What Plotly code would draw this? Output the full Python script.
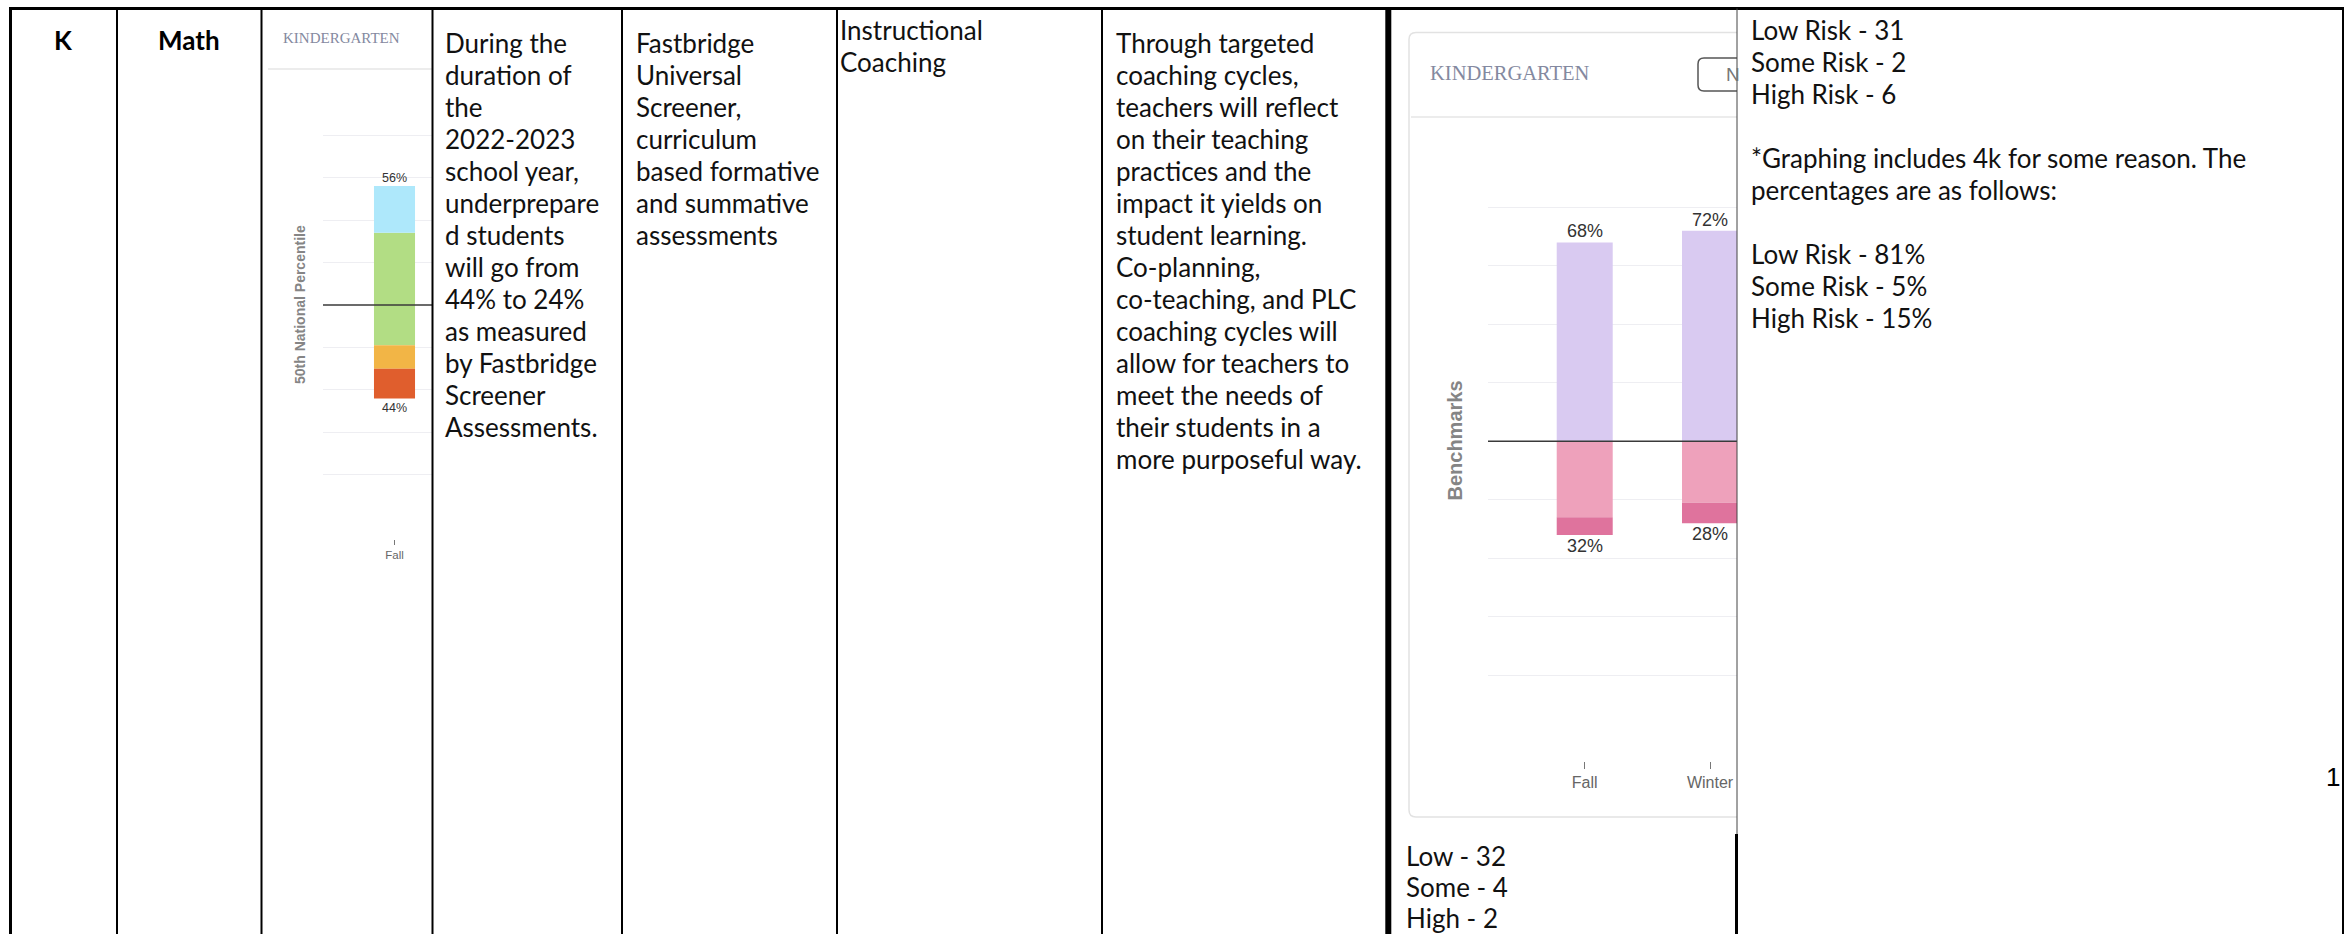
import plotly.graph_objects as go

W, H = 2344, 934

# ---------------- data ----------------
grade = "K"
subject = "Math"

# chart 1 : 50th national percentile view (percent of students)
k1_seasons = ["Fall"]
k1_blue_above = [22]
k1_green_above = [34]
k1_green_below = [19]
k1_orange_below = [11]
k1_red_below = [14]

# chart 2 : benchmarks view (percent of students)
k2_seasons = ["Fall", "Winter"]
k2_low_risk = [68, 72]
k2_some_risk = [26, 21]
k2_high_risk = [6, 7]

chart_title = "KINDERGARTEN"
k1_axis_title = "50th National Percentile"
k2_axis_title = "Benchmarks"

goal_lines = ["During the", "duration of", "the", "2022-2023", "school year,", "underprepare",
              "d students", "will go from", "44% to 24%", "as measured", "by Fastbridge",
              "Screener", "Assessments."]
measure_lines = ["Fastbridge", "Universal", "Screener,", "curriculum", "based formative",
                 "and summative", "assessments"]
strategy_lines = ["Instructional", "Coaching"]
action_lines = ["Through targeted", "coaching cycles,", "teachers will reflect", "on their teaching",
                "practices and the", "impact it yields on", "student learning.", "Co-planning,",
                "co-teaching, and PLC", "coaching cycles will", "allow for teachers to",
                "meet the needs of", "their students in a", "more purposeful way."]
count_lines = ["Low - 32", "Some - 4", "High - 2"]
note_lines = ["Low Risk - 31", "Some Risk - 2", "High Risk - 6", "",
              "*Graphing includes 4k for some reason. The", "percentages are as follows:", "",
              "Low Risk - 81%", "Some Risk - 5%", "High Risk - 15%"]
page_number = "1"

# ---------------- helpers ----------------
def px(x):
    return x / W


def py(y):
    return 1 - y / H


ann = []
shapes = []

TEXT_FONT = "Lato, 'Open Sans', sans-serif"
CHART_FONT = "'Liberation Sans', Arial, sans-serif"
NARROW_FONT = "'Liberation Sans Narrow', 'Arial Narrow', 'Liberation Sans', sans-serif"
SERIF_FONT = "'Liberation Serif', 'Times New Roman', serif"


def text_lines(lines, x, y0, dy, size=26, color="#111111", family=TEXT_FONT):
    for i, t in enumerate(lines):
        if not t:
            continue
        ann.append(dict(text=t, x=px(x), y=py(y0 + i * dy), xref="paper", yref="paper",
                        xanchor="left", yanchor="middle", showarrow=False,
                        font=dict(family=family, size=size, color=color)))


def hline(x0, x1, y, color="#000", width=2):
    shapes.append(dict(type="line", xref="paper", yref="paper", x0=px(x0), x1=px(x1),
                       y0=py(y), y1=py(y), line=dict(color=color, width=width)))


def vline(x, y0, y1, color="#000", width=2):
    shapes.append(dict(type="line", xref="paper", yref="paper", x0=px(x), x1=px(x),
                       y0=py(y0), y1=py(y1), line=dict(color=color, width=width)))


def ppath(points):
    s = ""
    for cmd, *vals in points:
        coords = []
        for i in range(0, len(vals), 2):
            coords.append(f"{px(vals[i]):.6f},{py(vals[i+1]):.6f}")
        s += cmd + " " + " ".join(coords) + " "
    return s.strip()


fig = go.Figure()

# ---------------- chart 1 ----------------
c1_colors = dict(blue="#aee8fb", green="#b2dd84", orange="#f2b546", red="#e05e2d")
bw1 = 0.287


def bar1(vals, color):
    fig.add_trace(go.Bar(x=k1_seasons, y=vals, width=bw1, marker=dict(color=color, line=dict(width=0)),
                         xaxis="x", yaxis="y", hoverinfo="skip"))


bar1(k1_green_above, c1_colors["green"])
bar1(k1_blue_above, c1_colors["blue"])
bar1([-v for v in k1_green_below], c1_colors["green"])
bar1([-v for v in k1_orange_below], c1_colors["orange"])
bar1([-v for v in k1_red_below], c1_colors["red"])

k1_top = [a + b for a, b in zip(k1_blue_above, k1_green_above)]
k1_bot = [a + b + c for a, b, c in zip(k1_green_below, k1_orange_below, k1_red_below)]
for s, t, b in zip(k1_seasons, k1_top, k1_bot):
    ann.append(dict(x=s, y=t, xref="x", yref="y", text=f"{t}%", showarrow=False, xanchor="center",
                    yanchor="middle", yshift=8.5, font=dict(family=CHART_FONT, size=12.5, color="#333")))
    ann.append(dict(x=s, y=-b, xref="x", yref="y", text=f"{b}%", showarrow=False, xanchor="center",
                    yanchor="middle", yshift=-9.5, font=dict(family=CHART_FONT, size=12.5, color="#333")))

# ---------------- chart 2 ----------------
c2_colors = dict(low="#d9caf1", some="#eea1bb", high="#df739d")
bw2 = 0.447


def bar2(vals, color):
    fig.add_trace(go.Bar(x=k2_seasons, y=vals, width=bw2, marker=dict(color=color, line=dict(width=0)),
                         xaxis="x2", yaxis="y2", hoverinfo="skip"))


bar2(k2_low_risk, c2_colors["low"])
bar2([-v for v in k2_some_risk], c2_colors["some"])
bar2([-v for v in k2_high_risk], c2_colors["high"])

k2_bot = [a + b for a, b in zip(k2_some_risk, k2_high_risk)]
for s, t, b in zip(k2_seasons, k2_low_risk, k2_bot):
    ann.append(dict(x=s, y=t, xref="x2", yref="y2", text=f"{t}%", showarrow=False, xanchor="center",
                    yanchor="middle", yshift=11, font=dict(family=CHART_FONT, size=18, color="#333")))
    ann.append(dict(x=s, y=-b, xref="x2", yref="y2", text=f"{b}%", showarrow=False, xanchor="center",
                    yanchor="middle", yshift=-11, font=dict(family=CHART_FONT, size=18, color="#333")))

# ---------------- axes ----------------
grid_vals = [-80, -60, -40, -20, 20, 40, 60, 80]

# chart geometry (pixels)
c1_left, c1_right, c1_top, c1_bot, c1_zero, c1_scale = 323, 432, 114, 539, 305, 2.124
c2_left, c2_right, c2_top, c2_bot, c2_zero, c2_scale = 1488, 1737, 149, 761, 441.3, 2.925

fig.update_layout(
    width=W, height=H, margin=dict(l=0, r=0, t=0, b=0, pad=0),
    paper_bgcolor="white", plot_bgcolor="rgba(0,0,0,0)",
    barmode="relative", showlegend=False,
    xaxis=dict(domain=[px(c1_left), px(c1_right)], range=[-0.5, 0.2622], type="category",
               ticks="outside", ticklen=5, tickcolor="#777", tickwidth=1,
               tickfont=dict(family=CHART_FONT, size=11.5, color="#666"),
               showgrid=False, zeroline=False, showline=False, anchor="y"),
    yaxis=dict(domain=[py(c1_bot), py(c1_top)],
               range=[-(c1_bot - c1_zero) / c1_scale, (c1_zero - c1_top) / c1_scale],
               tickmode="array", tickvals=grid_vals, showticklabels=False, ticks="",
               showgrid=True, gridcolor="#eeeef2", gridwidth=1, zeroline=False, showline=False, anchor="x"),
    xaxis2=dict(domain=[px(c2_left), px(c2_right)], range=[-0.772, 1.2155], type="category",
                ticks="outside", ticklen=7, tickcolor="#777", tickwidth=1,
                tickfont=dict(family=CHART_FONT, size=16, color="#666"),
                showgrid=False, zeroline=False, showline=False, anchor="y2"),
    yaxis2=dict(domain=[py(c2_bot), py(c2_top)],
                range=[-(c2_bot - c2_zero) / c2_scale, (c2_zero - c2_top) / c2_scale],
                tickmode="array", tickvals=grid_vals, showticklabels=False, ticks="",
                showgrid=True, gridcolor="#eeeef2", gridwidth=1, zeroline=False, showline=False, anchor="x2"),
)

# zero (reference) lines drawn over the bars
shapes.append(dict(type="line", xref="x domain", yref="y", x0=0, x1=1, y0=0, y1=0,
                   line=dict(color="#3a3a3a", width=1.5), layer="above"))
shapes.append(dict(type="line", xref="x2 domain", yref="y2", x0=0, x1=1, y0=0, y1=0,
                   line=dict(color="#3a3a3a", width=1.5), layer="above"))

# chart titles and axis titles
ann.append(dict(text=chart_title, x=px(281), y=py(38), xref="paper", yref="paper", xanchor="left",
                yanchor="middle", showarrow=False, font=dict(family=SERIF_FONT, size=15, color="#8489a0")))
ann.append(dict(text=chart_title, x=px(1428), y=py(73), xref="paper", yref="paper", xanchor="left",
                yanchor="middle", showarrow=False, font=dict(family=SERIF_FONT, size=20.5, color="#8489a0")))
ann.append(dict(text=f"<b>{k1_axis_title}</b>", x=px(300), y=py(305), xref="paper", yref="paper",
                xanchor="center", yanchor="middle", textangle=-90, showarrow=False,
                font=dict(family=NARROW_FONT, size=14, color="#858585")))
ann.append(dict(text=f"<b>{k2_axis_title}</b>", x=px(1454.5), y=py(441), xref="paper", yref="paper",
                xanchor="center", yanchor="middle", textangle=-90, showarrow=False,
                font=dict(family=NARROW_FONT, size=20, color="#858585")))
ann.append(dict(text="N", x=px(1724), y=py(74), xref="paper", yref="paper", xanchor="left",
                yanchor="middle", showarrow=False, font=dict(family=CHART_FONT, size=19, color="#777")))

# chart decorations
hline(268, 432, 69, color="#e6e6e6", width=1.5)
hline(1411, 1737, 117, color="#e6e6e6", width=1.5)
r = 7
shapes.append(dict(type="path", xref="paper", yref="paper", line=dict(color="#e2e2e2", width=1.5),
                   path=ppath([("M", 1737, 32.5), ("L", 1409 + r, 32.5), ("Q", 1409, 32.5, 1409, 32.5 + r),
                               ("L", 1409, 817 - r), ("Q", 1409, 817, 1409 + r, 817), ("L", 1737, 817)])))
shapes.append(dict(type="path", xref="paper", yref="paper", line=dict(color="#555", width=1.5),
                   path=ppath([("M", 1737, 58), ("L", 1704, 58), ("Q", 1698, 58, 1698, 64),
                               ("L", 1698, 85), ("Q", 1698, 91, 1704, 91), ("L", 1737, 91)])))

# ---------------- table text ----------------
ann.append(dict(text=f"<b>{grade}</b>", x=px(63.5), y=py(40.5), xref="paper", yref="paper",
                xanchor="center", yanchor="middle", showarrow=False,
                font=dict(family=TEXT_FONT, size=26, color="#000")))
ann.append(dict(text=f"<b>{subject}</b>", x=px(189), y=py(40.5), xref="paper", yref="paper",
                xanchor="center", yanchor="middle", showarrow=False,
                font=dict(family=TEXT_FONT, size=26, color="#000")))
text_lines(goal_lines, 443, 42.7, 32.0)
text_lines(measure_lines, 634, 42.7, 32.0)
text_lines(strategy_lines, 838, 30, 31.7)
text_lines(action_lines, 1114, 42.7, 32.0)
text_lines(count_lines, 1404, 856, 31)
text_lines(note_lines, 1749, 29.5, 32.1)
ann.append(dict(text=page_number, x=px(2342), y=py(777), xref="paper", yref="paper", xanchor="right",
                yanchor="middle", showarrow=False, font=dict(family=CHART_FONT, size=26, color="#000")))

# ---------------- table borders ----------------
hline(9, 2344, 8.5, width=3)
vline(10.5, 7, H, width=3)
for xv in [117, 261.5, 432.5, 622, 837, 1102]:
    vline(xv, 8.5, H, width=2)
vline(1388.3, 7, H, width=6)
vline(1737, 8.5, 834, color="#444", width=1)
vline(1736.5, 834, H, width=3)
vline(2343, 8.5, H, width=2)

fig.update_layout(annotations=ann, shapes=shapes)

fig.write_html("out.html", config={"displayModeBar": False},
               post_script="document.body.style.margin='0';document.body.style.overflow='hidden';")
